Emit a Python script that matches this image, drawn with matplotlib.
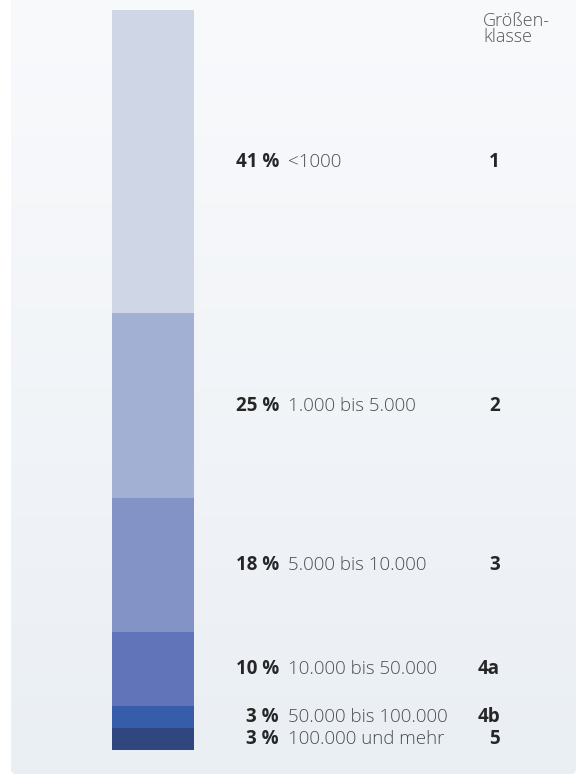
import numpy as np
import matplotlib.pyplot as plt
from matplotlib.patches import FancyBboxPatch

# Anteil der Gemeinden nach Einwohnergrößenklasse
shares = [41, 25, 18, 10, 3, 3]
ranges = ["<1000", "1.000 bis 5.000", "5.000 bis 10.000",
          "10.000 bis 50.000", "50.000 bis 100.000", "100.000 und mehr"]
classes = ["1", "2", "3", "4a", "4b", "5"]
colors = ["#cfd6e6", "#a2b1d3", "#8393c5", "#6274b9", "#375ca9", "#2f477e"]

W, H = 581, 775
plt.rcParams["font.family"] = ["Open Sans", "DejaVu Sans"]

fig = plt.figure(figsize=(W / 100, H / 100), dpi=100)
fig.patch.set_facecolor("white")

# Hintergrundfläche mit leichtem Verlauf von oben nach unten
bg = fig.add_axes([0, 0, 1, 1])
bg.set_xlim(0, W)
bg.set_ylim(H, 0)
bg.axis("off")
grad = np.linspace(0, 1, 256)[:, None]
top = np.array([0.976, 0.980, 0.988])
bottom = np.array([0.918, 0.937, 0.957])
img = top + (bottom - top) * grad[..., None]
panel = FancyBboxPatch((11, -20), 565, 794, boxstyle="round,pad=0,rounding_size=5",
                       linewidth=0, facecolor="none")
bg.add_patch(panel)
im = bg.imshow(img, extent=(11, 576, 774, 0), aspect="auto", zorder=0)
im.set_clip_path(panel)

# Gestapelter Balken, Anteile in Prozent
ax = fig.add_axes([0, 25 / H, 1, 740 / H])
ax.set_xlim(0, W)
ax.set_ylim(100, 0)
ax.axis("off")

bar_x, bar_w = 153, 82
bottoms = np.concatenate([[0], np.cumsum(shares)[:-1]])
ax.bar(bar_x, shares, bottom=bottoms, width=bar_w, color=colors, linewidth=0, zorder=2)
# schmale Schattenkante unter dem Balken
ax.bar(bar_x + 0.5, 0.3, bottom=100, width=bar_w + 1, color="#c4c6ca", linewidth=0, zorder=1)

fs = 13.5
for share, rng, cls, b in zip(shares, ranges, classes, bottoms):
    yc = b + share / 2
    ax.text(279, yc, f"{share} %", ha="right", va="center", fontsize=fs,
            fontweight="bold", color="#262626")
    ax.text(288, yc, rng, ha="left", va="center", fontsize=fs,
            fontweight="light", color="#4d4d4d")
    ax.text(500, yc, cls, ha="right", va="center", fontsize=fs,
            fontweight="bold", color="#262626")

bg.text(483, 12, "Größen-\nklasse", ha="left", va="top", fontsize=13,
        fontweight="light", color="#555555", linespacing=0.85)

fig.savefig("out.png", dpi=100)
